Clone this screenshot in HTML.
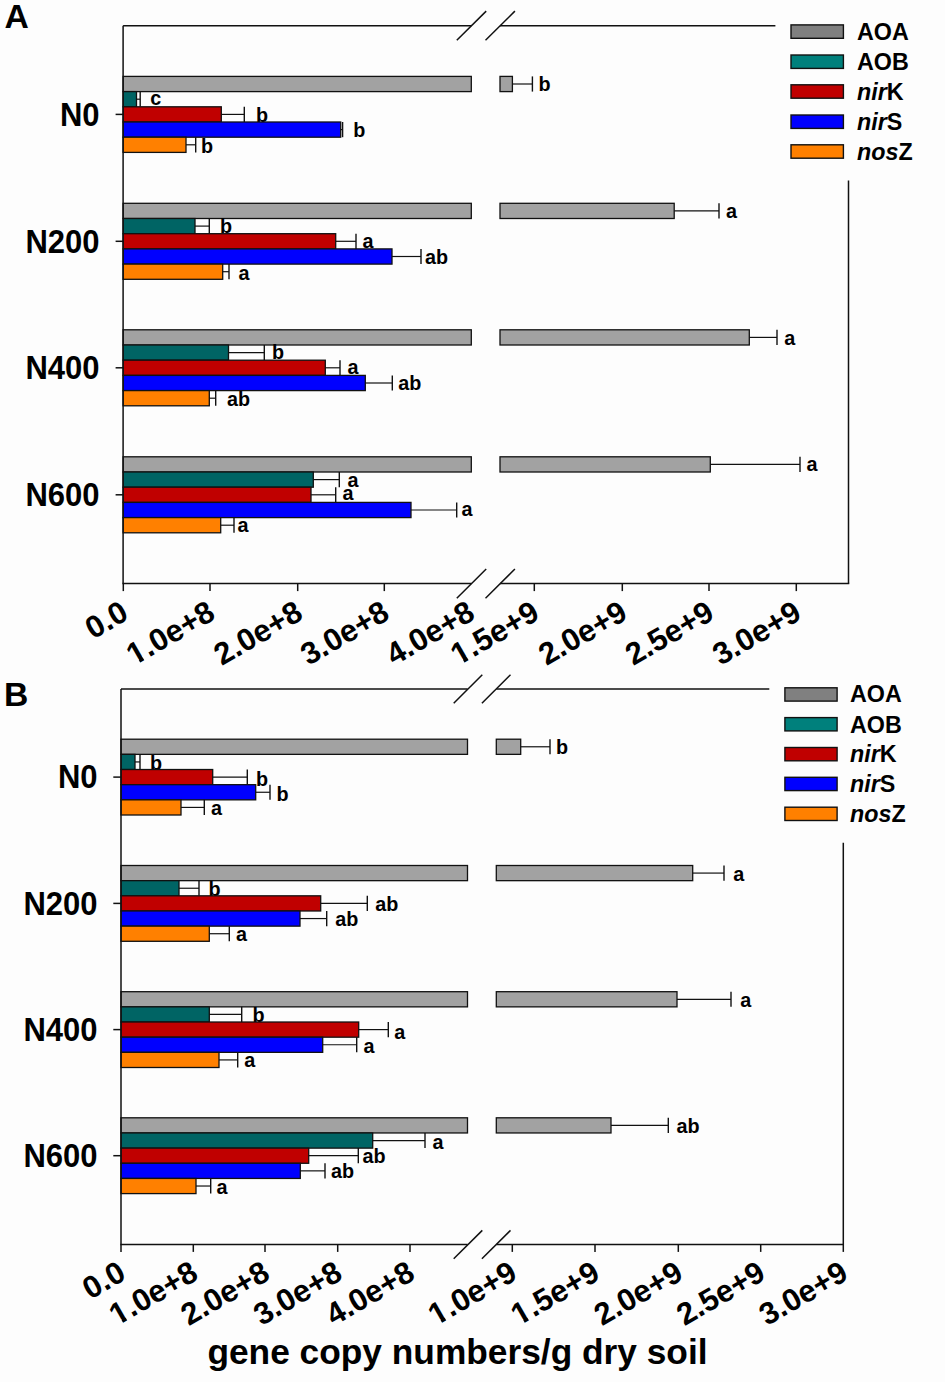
<!DOCTYPE html><html><head><meta charset="utf-8"><style>html,body{margin:0;padding:0;background:#fdfdfd;}svg{display:block;}text{font-family:"Liberation Sans", sans-serif;fill:#000;}</style></head><body>
<svg width="945" height="1382" viewBox="0 0 945 1382">
<rect x="0" y="0" width="945" height="1382" fill="#fdfdfd"/>
<rect x="123.1" y="76.40" width="348.20" height="15.20" fill="#a2a2a2" stroke="#111" stroke-width="1.3"/>
<rect x="500.0" y="76.40" width="12.40" height="15.20" fill="#a2a2a2" stroke="#111" stroke-width="1.3"/>
<line x1="512.4" y1="84.00" x2="532.4" y2="84.00" stroke="#111" stroke-width="1.2"/>
<line x1="532.4" y1="76.40" x2="532.4" y2="91.60" stroke="#111" stroke-width="1.4"/>
<text x="538.5" y="91.4" font-size="19.8" font-weight="bold">b</text>
<rect x="123.1" y="91.60" width="13.40" height="15.20" fill="#006464" stroke="#111" stroke-width="1.3"/>
<line x1="136.5" y1="99.20" x2="140.2" y2="99.20" stroke="#111" stroke-width="1.2"/>
<line x1="140.2" y1="91.60" x2="140.2" y2="106.80" stroke="#111" stroke-width="1.4"/>
<text x="150.2" y="105.4" font-size="19.8" font-weight="bold">c</text>
<rect x="123.1" y="106.80" width="98.20" height="15.20" fill="#c00000" stroke="#111" stroke-width="1.3"/>
<line x1="221.3" y1="114.40" x2="244.3" y2="114.40" stroke="#111" stroke-width="1.2"/>
<line x1="244.3" y1="106.80" x2="244.3" y2="122.00" stroke="#111" stroke-width="1.4"/>
<text x="256" y="121.6" font-size="19.8" font-weight="bold">b</text>
<rect x="123.1" y="122.00" width="217.60" height="15.20" fill="#0000ff" stroke="#111" stroke-width="1.3"/>
<line x1="340.7" y1="129.60" x2="342.6" y2="129.60" stroke="#111" stroke-width="1.2"/>
<line x1="342.6" y1="122.00" x2="342.6" y2="137.20" stroke="#111" stroke-width="1.4"/>
<text x="353.2" y="137" font-size="19.8" font-weight="bold">b</text>
<rect x="123.1" y="137.20" width="62.90" height="15.20" fill="#ff8000" stroke="#111" stroke-width="1.3"/>
<line x1="186" y1="144.80" x2="195.7" y2="144.80" stroke="#111" stroke-width="1.2"/>
<line x1="195.7" y1="137.20" x2="195.7" y2="152.40" stroke="#111" stroke-width="1.4"/>
<text x="201" y="153" font-size="19.8" font-weight="bold">b</text>
<rect x="123.1" y="203.30" width="348.20" height="15.20" fill="#a2a2a2" stroke="#111" stroke-width="1.3"/>
<rect x="500.0" y="203.30" width="174.20" height="15.20" fill="#a2a2a2" stroke="#111" stroke-width="1.3"/>
<line x1="674.2" y1="210.90" x2="719" y2="210.90" stroke="#111" stroke-width="1.2"/>
<line x1="719" y1="203.30" x2="719" y2="218.50" stroke="#111" stroke-width="1.4"/>
<text x="726" y="218.2" font-size="19.8" font-weight="bold">a</text>
<rect x="123.1" y="218.50" width="71.90" height="15.20" fill="#006464" stroke="#111" stroke-width="1.3"/>
<line x1="195" y1="226.10" x2="209.3" y2="226.10" stroke="#111" stroke-width="1.2"/>
<line x1="209.3" y1="218.50" x2="209.3" y2="233.70" stroke="#111" stroke-width="1.4"/>
<text x="220" y="233.3" font-size="19.8" font-weight="bold">b</text>
<rect x="123.1" y="233.70" width="212.60" height="15.20" fill="#c00000" stroke="#111" stroke-width="1.3"/>
<line x1="335.7" y1="241.30" x2="356" y2="241.30" stroke="#111" stroke-width="1.2"/>
<line x1="356" y1="233.70" x2="356" y2="248.90" stroke="#111" stroke-width="1.4"/>
<text x="362.6" y="247.6" font-size="19.8" font-weight="bold">a</text>
<rect x="123.1" y="248.90" width="268.90" height="15.20" fill="#0000ff" stroke="#111" stroke-width="1.3"/>
<line x1="392" y1="256.50" x2="421" y2="256.50" stroke="#111" stroke-width="1.2"/>
<line x1="421" y1="248.90" x2="421" y2="264.10" stroke="#111" stroke-width="1.4"/>
<text x="425" y="264" font-size="19.8" font-weight="bold">ab</text>
<rect x="123.1" y="264.10" width="99.60" height="15.20" fill="#ff8000" stroke="#111" stroke-width="1.3"/>
<line x1="222.7" y1="271.70" x2="229" y2="271.70" stroke="#111" stroke-width="1.2"/>
<line x1="229" y1="264.10" x2="229" y2="279.30" stroke="#111" stroke-width="1.4"/>
<text x="238.6" y="279.6" font-size="19.8" font-weight="bold">a</text>
<rect x="123.1" y="329.80" width="348.20" height="15.20" fill="#a2a2a2" stroke="#111" stroke-width="1.3"/>
<rect x="500.0" y="329.80" width="249.30" height="15.20" fill="#a2a2a2" stroke="#111" stroke-width="1.3"/>
<line x1="749.3" y1="337.40" x2="777" y2="337.40" stroke="#111" stroke-width="1.2"/>
<line x1="777" y1="329.80" x2="777" y2="345.00" stroke="#111" stroke-width="1.4"/>
<text x="784.3" y="344.6" font-size="19.8" font-weight="bold">a</text>
<rect x="123.1" y="345.00" width="105.40" height="15.20" fill="#006464" stroke="#111" stroke-width="1.3"/>
<line x1="228.5" y1="352.60" x2="264.3" y2="352.60" stroke="#111" stroke-width="1.2"/>
<line x1="264.3" y1="345.00" x2="264.3" y2="360.20" stroke="#111" stroke-width="1.4"/>
<text x="272" y="358.5" font-size="19.8" font-weight="bold">b</text>
<rect x="123.1" y="360.20" width="202.20" height="15.20" fill="#c00000" stroke="#111" stroke-width="1.3"/>
<line x1="325.3" y1="367.80" x2="340" y2="367.80" stroke="#111" stroke-width="1.2"/>
<line x1="340" y1="360.20" x2="340" y2="375.40" stroke="#111" stroke-width="1.4"/>
<text x="347.6" y="373.8" font-size="19.8" font-weight="bold">a</text>
<rect x="123.1" y="375.40" width="242.20" height="15.20" fill="#0000ff" stroke="#111" stroke-width="1.3"/>
<line x1="365.3" y1="383.00" x2="392.3" y2="383.00" stroke="#111" stroke-width="1.2"/>
<line x1="392.3" y1="375.40" x2="392.3" y2="390.60" stroke="#111" stroke-width="1.4"/>
<text x="398.3" y="390.4" font-size="19.8" font-weight="bold">ab</text>
<rect x="123.1" y="390.60" width="86.20" height="15.20" fill="#ff8000" stroke="#111" stroke-width="1.3"/>
<line x1="209.3" y1="398.20" x2="215.7" y2="398.20" stroke="#111" stroke-width="1.2"/>
<line x1="215.7" y1="390.60" x2="215.7" y2="405.80" stroke="#111" stroke-width="1.4"/>
<text x="227" y="406" font-size="19.8" font-weight="bold">ab</text>
<rect x="123.1" y="456.80" width="348.20" height="15.20" fill="#a2a2a2" stroke="#111" stroke-width="1.3"/>
<rect x="500.0" y="456.80" width="210.30" height="15.20" fill="#a2a2a2" stroke="#111" stroke-width="1.3"/>
<line x1="710.3" y1="464.40" x2="800" y2="464.40" stroke="#111" stroke-width="1.2"/>
<line x1="800" y1="456.80" x2="800" y2="472.00" stroke="#111" stroke-width="1.4"/>
<text x="806.6" y="471.2" font-size="19.8" font-weight="bold">a</text>
<rect x="123.1" y="472.00" width="190.20" height="15.20" fill="#006464" stroke="#111" stroke-width="1.3"/>
<line x1="313.3" y1="479.60" x2="339.3" y2="479.60" stroke="#111" stroke-width="1.2"/>
<line x1="339.3" y1="472.00" x2="339.3" y2="487.20" stroke="#111" stroke-width="1.4"/>
<text x="347.6" y="486.6" font-size="19.8" font-weight="bold">a</text>
<rect x="123.1" y="487.20" width="187.90" height="15.20" fill="#c00000" stroke="#111" stroke-width="1.3"/>
<line x1="311" y1="494.80" x2="335.7" y2="494.80" stroke="#111" stroke-width="1.2"/>
<line x1="335.7" y1="487.20" x2="335.7" y2="502.40" stroke="#111" stroke-width="1.4"/>
<text x="342.6" y="500.3" font-size="19.8" font-weight="bold">a</text>
<rect x="123.1" y="502.40" width="287.90" height="15.20" fill="#0000ff" stroke="#111" stroke-width="1.3"/>
<line x1="411" y1="510.00" x2="456.7" y2="510.00" stroke="#111" stroke-width="1.2"/>
<line x1="456.7" y1="502.40" x2="456.7" y2="517.60" stroke="#111" stroke-width="1.4"/>
<text x="461.6" y="516" font-size="19.8" font-weight="bold">a</text>
<rect x="123.1" y="517.60" width="97.60" height="15.20" fill="#ff8000" stroke="#111" stroke-width="1.3"/>
<line x1="220.7" y1="525.20" x2="234" y2="525.20" stroke="#111" stroke-width="1.2"/>
<line x1="234" y1="517.60" x2="234" y2="532.80" stroke="#111" stroke-width="1.4"/>
<text x="237.6" y="532.4" font-size="19.8" font-weight="bold">a</text>
<g stroke="#111" stroke-width="1.5" fill="none">
<line x1="123.1" y1="25.7" x2="123.1" y2="583.6"/>
<line x1="123.1" y1="25.7" x2="471.3" y2="25.7"/>
<line x1="500.0" y1="25.7" x2="775.4" y2="25.7"/>
<line x1="848.5" y1="180.5" x2="848.5" y2="583.6"/>
<line x1="122.35" y1="583.6" x2="471.3" y2="583.6"/>
<line x1="500.0" y1="583.6" x2="849.25" y2="583.6"/>
<line x1="456.80" y1="40.30" x2="486.20" y2="11.10"/>
<line x1="485.50" y1="40.30" x2="514.90" y2="11.10"/>
<line x1="456.80" y1="598.20" x2="486.20" y2="569.00"/>
<line x1="485.50" y1="598.20" x2="514.90" y2="569.00"/>
<line x1="123.3" y1="583.6" x2="123.3" y2="591.1"/>
<line x1="210.0" y1="583.6" x2="210.0" y2="591.1"/>
<line x1="297.7" y1="583.6" x2="297.7" y2="591.1"/>
<line x1="384.3" y1="583.6" x2="384.3" y2="591.1"/>
<line x1="534.3" y1="583.6" x2="534.3" y2="591.1"/>
<line x1="622.3" y1="583.6" x2="622.3" y2="591.1"/>
<line x1="709.0" y1="583.6" x2="709.0" y2="591.1"/>
<line x1="796.3" y1="583.6" x2="796.3" y2="591.1"/>
<line x1="115.6" y1="114.4" x2="123.1" y2="114.4"/>
<line x1="115.6" y1="241.3" x2="123.1" y2="241.3"/>
<line x1="115.6" y1="367.8" x2="123.1" y2="367.8"/>
<line x1="115.6" y1="494.8" x2="123.1" y2="494.8"/>
</g>
<text transform="translate(99.5 125.60) scale(1 1.06)" font-size="31" font-weight="bold" text-anchor="end">N0</text>
<text transform="translate(99.5 252.50) scale(1 1.06)" font-size="31" font-weight="bold" text-anchor="end">N200</text>
<text transform="translate(99.5 379.00) scale(1 1.06)" font-size="31" font-weight="bold" text-anchor="end">N400</text>
<text transform="translate(99.5 506.00) scale(1 1.06)" font-size="31" font-weight="bold" text-anchor="end">N600</text>
<g transform="rotate(-30 130.30 618.20)">
<text x="130.30" y="618.20" font-size="31" font-weight="bold" text-anchor="end">0.0</text>
</g>
<g transform="rotate(-30 217.00 618.20)">
<text x="217.00" y="618.20" font-size="31" font-weight="bold" text-anchor="end">1.0e+8</text>
<rect x="121.31" y="613.86" width="7.01" height="6.82" fill="#fdfdfd"/>
<rect x="133.06" y="613.86" width="6.85" height="6.82" fill="#fdfdfd"/>
</g>
<g transform="rotate(-30 304.70 618.20)">
<text x="304.70" y="618.20" font-size="31" font-weight="bold" text-anchor="end">2.0e+8</text>
</g>
<g transform="rotate(-30 391.30 618.20)">
<text x="391.30" y="618.20" font-size="31" font-weight="bold" text-anchor="end">3.0e+8</text>
</g>
<g transform="rotate(-30 476.80 618.20)">
<text x="476.80" y="618.20" font-size="31" font-weight="bold" text-anchor="end">4.0e+8</text>
</g>
<g transform="rotate(-30 541.30 618.20)">
<text x="541.30" y="618.20" font-size="31" font-weight="bold" text-anchor="end">1.5e+9</text>
<rect x="445.61" y="613.86" width="7.01" height="6.82" fill="#fdfdfd"/>
<rect x="457.36" y="613.86" width="6.85" height="6.82" fill="#fdfdfd"/>
</g>
<g transform="rotate(-30 629.30 618.20)">
<text x="629.30" y="618.20" font-size="31" font-weight="bold" text-anchor="end">2.0e+9</text>
</g>
<g transform="rotate(-30 716.00 618.20)">
<text x="716.00" y="618.20" font-size="31" font-weight="bold" text-anchor="end">2.5e+9</text>
</g>
<g transform="rotate(-30 803.30 618.20)">
<text x="803.30" y="618.20" font-size="31" font-weight="bold" text-anchor="end">3.0e+9</text>
</g>
<rect x="791.00" y="24.90" width="52.40" height="13.40" fill="#808080" stroke="#111" stroke-width="1.4"/>
<text transform="translate(857.0 39.6) scale(1 1.035)" font-size="23.3" font-weight="bold">AOA</text>
<rect x="791.00" y="55.00" width="52.40" height="13.40" fill="#00807c" stroke="#111" stroke-width="1.4"/>
<text transform="translate(857.0 70.0) scale(1 1.035)" font-size="23.3" font-weight="bold">AOB</text>
<rect x="791.00" y="84.80" width="52.40" height="13.40" fill="#c00000" stroke="#111" stroke-width="1.4"/>
<text transform="translate(857.0 100.0) scale(1 1.035)" font-size="23.3" font-weight="bold"><tspan font-style="italic">nir</tspan>K</text>
<rect x="791.00" y="115.00" width="52.40" height="13.40" fill="#0000ff" stroke="#111" stroke-width="1.4"/>
<text transform="translate(857.0 130.0) scale(1 1.035)" font-size="23.3" font-weight="bold"><tspan font-style="italic">nir</tspan>S</text>
<rect x="791.00" y="144.80" width="52.40" height="13.40" fill="#ff8000" stroke="#111" stroke-width="1.4"/>
<text transform="translate(857.0 160.0) scale(1 1.035)" font-size="23.3" font-weight="bold"><tspan font-style="italic">nos</tspan>Z</text>
<text x="4.6" y="28" font-size="33.7" font-weight="bold">A</text>
<rect x="121" y="739.20" width="346.50" height="15.16" fill="#a2a2a2" stroke="#111" stroke-width="1.3"/>
<rect x="496.3" y="739.20" width="24.40" height="15.16" fill="#a2a2a2" stroke="#111" stroke-width="1.3"/>
<line x1="520.7" y1="746.78" x2="550" y2="746.78" stroke="#111" stroke-width="1.2"/>
<line x1="550" y1="739.20" x2="550" y2="754.36" stroke="#111" stroke-width="1.4"/>
<text x="556" y="754" font-size="19.8" font-weight="bold">b</text>
<rect x="121" y="754.36" width="14.00" height="15.16" fill="#006464" stroke="#111" stroke-width="1.3"/>
<line x1="135" y1="761.94" x2="140" y2="761.94" stroke="#111" stroke-width="1.2"/>
<line x1="140" y1="754.36" x2="140" y2="769.52" stroke="#111" stroke-width="1.4"/>
<text x="150" y="770" font-size="19.8" font-weight="bold">b</text>
<rect x="121" y="769.52" width="91.70" height="15.16" fill="#c00000" stroke="#111" stroke-width="1.3"/>
<line x1="212.7" y1="777.10" x2="247.3" y2="777.10" stroke="#111" stroke-width="1.2"/>
<line x1="247.3" y1="769.52" x2="247.3" y2="784.68" stroke="#111" stroke-width="1.4"/>
<text x="256" y="786" font-size="19.8" font-weight="bold">b</text>
<rect x="121" y="784.68" width="134.70" height="15.16" fill="#0000ff" stroke="#111" stroke-width="1.3"/>
<line x1="255.7" y1="792.26" x2="270" y2="792.26" stroke="#111" stroke-width="1.2"/>
<line x1="270" y1="784.68" x2="270" y2="799.84" stroke="#111" stroke-width="1.4"/>
<text x="276.6" y="800.5" font-size="19.8" font-weight="bold">b</text>
<rect x="121" y="799.84" width="60.00" height="15.16" fill="#ff8000" stroke="#111" stroke-width="1.3"/>
<line x1="181" y1="807.42" x2="204.3" y2="807.42" stroke="#111" stroke-width="1.2"/>
<line x1="204.3" y1="799.84" x2="204.3" y2="815.00" stroke="#111" stroke-width="1.4"/>
<text x="211" y="814.6" font-size="19.8" font-weight="bold">a</text>
<rect x="121" y="865.50" width="346.50" height="15.16" fill="#a2a2a2" stroke="#111" stroke-width="1.3"/>
<rect x="496.3" y="865.50" width="196.40" height="15.16" fill="#a2a2a2" stroke="#111" stroke-width="1.3"/>
<line x1="692.7" y1="873.08" x2="724" y2="873.08" stroke="#111" stroke-width="1.2"/>
<line x1="724" y1="865.50" x2="724" y2="880.66" stroke="#111" stroke-width="1.4"/>
<text x="733.3" y="880.5" font-size="19.8" font-weight="bold">a</text>
<rect x="121" y="880.66" width="58.00" height="15.16" fill="#006464" stroke="#111" stroke-width="1.3"/>
<line x1="179" y1="888.24" x2="199" y2="888.24" stroke="#111" stroke-width="1.2"/>
<line x1="199" y1="880.66" x2="199" y2="895.82" stroke="#111" stroke-width="1.4"/>
<text x="208.6" y="896" font-size="19.8" font-weight="bold">b</text>
<rect x="121" y="895.82" width="199.70" height="15.16" fill="#c00000" stroke="#111" stroke-width="1.3"/>
<line x1="320.7" y1="903.40" x2="367.3" y2="903.40" stroke="#111" stroke-width="1.2"/>
<line x1="367.3" y1="895.82" x2="367.3" y2="910.98" stroke="#111" stroke-width="1.4"/>
<text x="375.3" y="911" font-size="19.8" font-weight="bold">ab</text>
<rect x="121" y="910.98" width="179.00" height="15.16" fill="#0000ff" stroke="#111" stroke-width="1.3"/>
<line x1="300" y1="918.56" x2="326.7" y2="918.56" stroke="#111" stroke-width="1.2"/>
<line x1="326.7" y1="910.98" x2="326.7" y2="926.14" stroke="#111" stroke-width="1.4"/>
<text x="335.3" y="926" font-size="19.8" font-weight="bold">ab</text>
<rect x="121" y="926.14" width="88.30" height="15.16" fill="#ff8000" stroke="#111" stroke-width="1.3"/>
<line x1="209.3" y1="933.72" x2="229.3" y2="933.72" stroke="#111" stroke-width="1.2"/>
<line x1="229.3" y1="926.14" x2="229.3" y2="941.30" stroke="#111" stroke-width="1.4"/>
<text x="236" y="941" font-size="19.8" font-weight="bold">a</text>
<rect x="121" y="991.70" width="346.50" height="15.16" fill="#a2a2a2" stroke="#111" stroke-width="1.3"/>
<rect x="496.3" y="991.70" width="180.70" height="15.16" fill="#a2a2a2" stroke="#111" stroke-width="1.3"/>
<line x1="677" y1="999.28" x2="731" y2="999.28" stroke="#111" stroke-width="1.2"/>
<line x1="731" y1="991.70" x2="731" y2="1006.86" stroke="#111" stroke-width="1.4"/>
<text x="740.3" y="1006.5" font-size="19.8" font-weight="bold">a</text>
<rect x="121" y="1006.86" width="88.30" height="15.16" fill="#006464" stroke="#111" stroke-width="1.3"/>
<line x1="209.3" y1="1014.44" x2="241.7" y2="1014.44" stroke="#111" stroke-width="1.2"/>
<line x1="241.7" y1="1006.86" x2="241.7" y2="1022.02" stroke="#111" stroke-width="1.4"/>
<text x="252.6" y="1022" font-size="19.8" font-weight="bold">b</text>
<rect x="121" y="1022.02" width="237.70" height="15.16" fill="#c00000" stroke="#111" stroke-width="1.3"/>
<line x1="358.7" y1="1029.60" x2="388.3" y2="1029.60" stroke="#111" stroke-width="1.2"/>
<line x1="388.3" y1="1022.02" x2="388.3" y2="1037.18" stroke="#111" stroke-width="1.4"/>
<text x="394.3" y="1039" font-size="19.8" font-weight="bold">a</text>
<rect x="121" y="1037.18" width="201.70" height="15.16" fill="#0000ff" stroke="#111" stroke-width="1.3"/>
<line x1="322.7" y1="1044.76" x2="356.7" y2="1044.76" stroke="#111" stroke-width="1.2"/>
<line x1="356.7" y1="1037.18" x2="356.7" y2="1052.34" stroke="#111" stroke-width="1.4"/>
<text x="363.6" y="1053.3" font-size="19.8" font-weight="bold">a</text>
<rect x="121" y="1052.34" width="98.00" height="15.16" fill="#ff8000" stroke="#111" stroke-width="1.3"/>
<line x1="219" y1="1059.92" x2="237.7" y2="1059.92" stroke="#111" stroke-width="1.2"/>
<line x1="237.7" y1="1052.34" x2="237.7" y2="1067.50" stroke="#111" stroke-width="1.4"/>
<text x="244.3" y="1067" font-size="19.8" font-weight="bold">a</text>
<rect x="121" y="1117.80" width="346.50" height="15.16" fill="#a2a2a2" stroke="#111" stroke-width="1.3"/>
<rect x="496.3" y="1117.80" width="114.70" height="15.16" fill="#a2a2a2" stroke="#111" stroke-width="1.3"/>
<line x1="611" y1="1125.38" x2="668.3" y2="1125.38" stroke="#111" stroke-width="1.2"/>
<line x1="668.3" y1="1117.80" x2="668.3" y2="1132.96" stroke="#111" stroke-width="1.4"/>
<text x="676.6" y="1132.5" font-size="19.8" font-weight="bold">ab</text>
<rect x="121" y="1132.96" width="251.70" height="15.16" fill="#006464" stroke="#111" stroke-width="1.3"/>
<line x1="372.7" y1="1140.54" x2="425" y2="1140.54" stroke="#111" stroke-width="1.2"/>
<line x1="425" y1="1132.96" x2="425" y2="1148.12" stroke="#111" stroke-width="1.4"/>
<text x="432.6" y="1149.4" font-size="19.8" font-weight="bold">a</text>
<rect x="121" y="1148.12" width="187.70" height="15.16" fill="#c00000" stroke="#111" stroke-width="1.3"/>
<line x1="308.7" y1="1155.70" x2="358.3" y2="1155.70" stroke="#111" stroke-width="1.2"/>
<line x1="358.3" y1="1148.12" x2="358.3" y2="1163.28" stroke="#111" stroke-width="1.4"/>
<text x="362.6" y="1163" font-size="19.8" font-weight="bold">ab</text>
<rect x="121" y="1163.28" width="179.30" height="15.16" fill="#0000ff" stroke="#111" stroke-width="1.3"/>
<line x1="300.3" y1="1170.86" x2="325" y2="1170.86" stroke="#111" stroke-width="1.2"/>
<line x1="325" y1="1163.28" x2="325" y2="1178.44" stroke="#111" stroke-width="1.4"/>
<text x="331" y="1178" font-size="19.8" font-weight="bold">ab</text>
<rect x="121" y="1178.44" width="75.00" height="15.16" fill="#ff8000" stroke="#111" stroke-width="1.3"/>
<line x1="196" y1="1186.02" x2="210.7" y2="1186.02" stroke="#111" stroke-width="1.2"/>
<line x1="210.7" y1="1178.44" x2="210.7" y2="1193.60" stroke="#111" stroke-width="1.4"/>
<text x="216.6" y="1194.4" font-size="19.8" font-weight="bold">a</text>
<g stroke="#111" stroke-width="1.5" fill="none">
<line x1="121" y1="689" x2="121" y2="1244.6"/>
<line x1="121" y1="689" x2="467.5" y2="689"/>
<line x1="496.3" y1="689" x2="769.3" y2="689"/>
<line x1="843.3" y1="842.7" x2="843.3" y2="1244.6"/>
<line x1="120.25" y1="1244.6" x2="467.5" y2="1244.6"/>
<line x1="496.3" y1="1244.6" x2="844.05" y2="1244.6"/>
<line x1="453.70" y1="703.20" x2="482.30" y2="674.80"/>
<line x1="481.90" y1="703.20" x2="510.50" y2="674.80"/>
<line x1="453.70" y1="1258.80" x2="482.30" y2="1230.40"/>
<line x1="481.90" y1="1258.80" x2="510.50" y2="1230.40"/>
<line x1="121" y1="1244.6" x2="121" y2="1251.8999999999999"/>
<line x1="193.3" y1="1244.6" x2="193.3" y2="1251.8999999999999"/>
<line x1="265" y1="1244.6" x2="265" y2="1251.8999999999999"/>
<line x1="337.7" y1="1244.6" x2="337.7" y2="1251.8999999999999"/>
<line x1="410" y1="1244.6" x2="410" y2="1251.8999999999999"/>
<line x1="512.3" y1="1244.6" x2="512.3" y2="1251.8999999999999"/>
<line x1="595" y1="1244.6" x2="595" y2="1251.8999999999999"/>
<line x1="678.3" y1="1244.6" x2="678.3" y2="1251.8999999999999"/>
<line x1="760.7" y1="1244.6" x2="760.7" y2="1251.8999999999999"/>
<line x1="843.3" y1="1244.6" x2="843.3" y2="1251.8999999999999"/>
<line x1="113.3" y1="777.1" x2="121" y2="777.1"/>
<line x1="113.3" y1="903.4" x2="121" y2="903.4"/>
<line x1="113.3" y1="1029.6" x2="121" y2="1029.6"/>
<line x1="113.3" y1="1155.7" x2="121" y2="1155.7"/>
</g>
<text transform="translate(97.5 788.30) scale(1 1.06)" font-size="31" font-weight="bold" text-anchor="end">N0</text>
<text transform="translate(97.5 914.60) scale(1 1.06)" font-size="31" font-weight="bold" text-anchor="end">N200</text>
<text transform="translate(97.5 1040.80) scale(1 1.06)" font-size="31" font-weight="bold" text-anchor="end">N400</text>
<text transform="translate(97.5 1166.90) scale(1 1.06)" font-size="31" font-weight="bold" text-anchor="end">N600</text>
<g transform="rotate(-30 127.60 1278.40)">
<text x="127.60" y="1278.40" font-size="31" font-weight="bold" text-anchor="end">0.0</text>
</g>
<g transform="rotate(-30 199.90 1278.40)">
<text x="199.90" y="1278.40" font-size="31" font-weight="bold" text-anchor="end">1.0e+8</text>
<rect x="104.21" y="1274.06" width="7.01" height="6.82" fill="#fdfdfd"/>
<rect x="115.96" y="1274.06" width="6.85" height="6.82" fill="#fdfdfd"/>
</g>
<g transform="rotate(-30 271.60 1278.40)">
<text x="271.60" y="1278.40" font-size="31" font-weight="bold" text-anchor="end">2.0e+8</text>
</g>
<g transform="rotate(-30 344.30 1278.40)">
<text x="344.30" y="1278.40" font-size="31" font-weight="bold" text-anchor="end">3.0e+8</text>
</g>
<g transform="rotate(-30 416.60 1278.40)">
<text x="416.60" y="1278.40" font-size="31" font-weight="bold" text-anchor="end">4.0e+8</text>
</g>
<g transform="rotate(-30 518.90 1278.40)">
<text x="518.90" y="1278.40" font-size="31" font-weight="bold" text-anchor="end">1.0e+9</text>
<rect x="423.21" y="1274.06" width="7.01" height="6.82" fill="#fdfdfd"/>
<rect x="434.96" y="1274.06" width="6.85" height="6.82" fill="#fdfdfd"/>
</g>
<g transform="rotate(-30 601.60 1278.40)">
<text x="601.60" y="1278.40" font-size="31" font-weight="bold" text-anchor="end">1.5e+9</text>
<rect x="505.91" y="1274.06" width="7.01" height="6.82" fill="#fdfdfd"/>
<rect x="517.66" y="1274.06" width="6.85" height="6.82" fill="#fdfdfd"/>
</g>
<g transform="rotate(-30 684.90 1278.40)">
<text x="684.90" y="1278.40" font-size="31" font-weight="bold" text-anchor="end">2.0e+9</text>
</g>
<g transform="rotate(-30 767.30 1278.40)">
<text x="767.30" y="1278.40" font-size="31" font-weight="bold" text-anchor="end">2.5e+9</text>
</g>
<g transform="rotate(-30 849.90 1278.40)">
<text x="849.90" y="1278.40" font-size="31" font-weight="bold" text-anchor="end">3.0e+9</text>
</g>
<rect x="784.90" y="687.80" width="52.20" height="13.30" fill="#808080" stroke="#111" stroke-width="1.4"/>
<text transform="translate(850.0 702.3) scale(1 1.035)" font-size="23.3" font-weight="bold">AOA</text>
<rect x="784.90" y="717.60" width="52.20" height="13.30" fill="#00807c" stroke="#111" stroke-width="1.4"/>
<text transform="translate(850.0 732.6) scale(1 1.035)" font-size="23.3" font-weight="bold">AOB</text>
<rect x="784.90" y="747.50" width="52.20" height="13.30" fill="#c00000" stroke="#111" stroke-width="1.4"/>
<text transform="translate(850.0 761.9) scale(1 1.035)" font-size="23.3" font-weight="bold"><tspan font-style="italic">nir</tspan>K</text>
<rect x="784.90" y="777.30" width="52.20" height="13.30" fill="#0000ff" stroke="#111" stroke-width="1.4"/>
<text transform="translate(850.0 791.9) scale(1 1.035)" font-size="23.3" font-weight="bold"><tspan font-style="italic">nir</tspan>S</text>
<rect x="784.90" y="807.20" width="52.20" height="13.30" fill="#ff8000" stroke="#111" stroke-width="1.4"/>
<text transform="translate(850.0 821.7) scale(1 1.035)" font-size="23.3" font-weight="bold"><tspan font-style="italic">nos</tspan>Z</text>
<text x="4" y="706" font-size="33.7" font-weight="bold">B</text>
<text x="207.4" y="1363.8" font-size="35.3" font-weight="bold">gene copy numbers/g dry soil</text>
</svg></body></html>
